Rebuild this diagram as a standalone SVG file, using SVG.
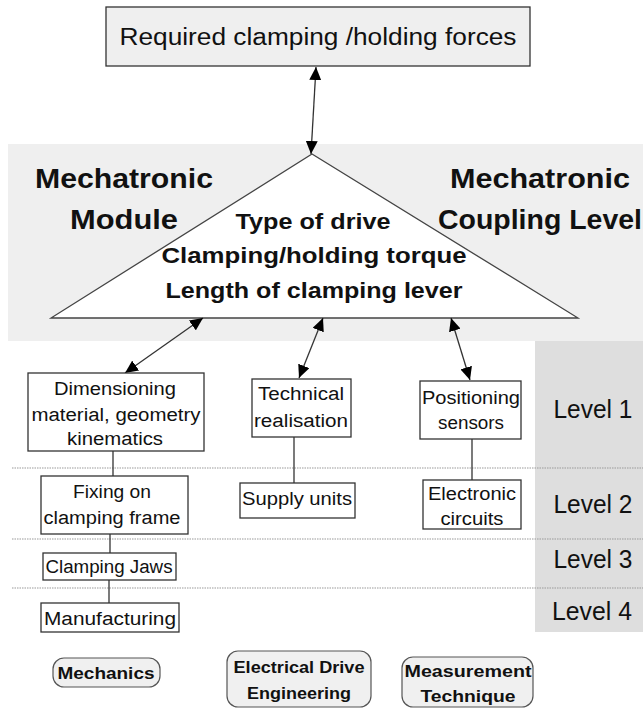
<svg xmlns="http://www.w3.org/2000/svg" width="643" height="708" viewBox="0 0 643 708">
<style>
text{font-family:"Liberation Sans",Arial,sans-serif;fill:#111;}
.box{fill:#fff;stroke:#333;stroke-width:1.3;}
.t{font-size:18px;text-anchor:middle;}
.b{font-weight:bold;}
.lvl{font-size:25px;text-anchor:middle;}
.cap{fill:#f0f0f0;stroke:#555;stroke-width:1.2;}
.dot{stroke:#999;stroke-width:1.2;stroke-dasharray:1.5 1;}
.ln{stroke:#333;stroke-width:1.3;fill:none;}
.arr{stroke:#333;stroke-width:1.3;fill:none;marker-start:url(#ah);marker-end:url(#ah);}
</style>
<defs>
<marker id="ah" markerUnits="userSpaceOnUse" markerWidth="14" markerHeight="12" refX="13" refY="6" orient="auto-start-reverse">
<path d="M0,0 L13,6 L0,12 z" fill="#000"/>
</marker>
</defs>

<g id="background">
<rect x="8" y="144" width="635" height="197" fill="#efefef"/>
<rect x="535" y="341" width="108" height="291" fill="#dedede"/>
<line class="dot" x1="12" y1="468" x2="643" y2="468"/>
<line class="dot" x1="12" y1="539" x2="643" y2="539"/>
<line class="dot" x1="12" y1="588" x2="643" y2="588"/>
</g>

<g id="top">
<rect x="106" y="7" width="424" height="59" fill="#efefef" stroke="#333" stroke-width="1.3"/>
<text x="318" y="45" font-size="23" text-anchor="middle" textLength="397" lengthAdjust="spacingAndGlyphs">Required clamping /holding forces</text>
</g>

<g id="module-label">
<text class="b" x="124" y="188" font-size="27" text-anchor="middle" textLength="178" lengthAdjust="spacingAndGlyphs">Mechatronic</text>
<text class="b" x="124" y="229" font-size="27" text-anchor="middle" textLength="108" lengthAdjust="spacingAndGlyphs">Module</text>
</g>
<g id="coupling-label">
<text class="b" x="540" y="188" font-size="27" text-anchor="middle" textLength="180" lengthAdjust="spacingAndGlyphs">Mechatronic</text>
<text class="b" x="540" y="229" font-size="27" text-anchor="middle" textLength="204" lengthAdjust="spacingAndGlyphs">Coupling Level</text>
</g>

<g id="triangle">
<polygon points="312,154 578,318 51,318" fill="#fff" stroke="#444" stroke-width="1.3"/>
<text class="b" x="313" y="229" font-size="22" text-anchor="middle" textLength="155" lengthAdjust="spacingAndGlyphs">Type of drive</text>
<text class="b" x="314" y="263" font-size="22" text-anchor="middle" textLength="305" lengthAdjust="spacingAndGlyphs">Clamping/holding torque</text>
<text class="b" x="314" y="298" font-size="22" text-anchor="middle" textLength="297" lengthAdjust="spacingAndGlyphs">Length of clamping lever</text>
</g>

<g id="connectors">
<line class="arr" x1="316" y1="67" x2="311" y2="154"/>
<line class="arr" x1="203" y1="318" x2="125" y2="373"/>
<line class="arr" x1="323" y1="318" x2="299" y2="378"/>
<line class="arr" x1="451" y1="318" x2="470" y2="380"/>
<line class="ln" x1="113" y1="451" x2="113" y2="476"/>
<line class="ln" x1="110" y1="534" x2="110" y2="553"/>
<line class="ln" x1="109" y1="580" x2="109" y2="603"/>
<line class="ln" x1="294" y1="437" x2="294" y2="483"/>
<line class="ln" x1="472" y1="439" x2="472" y2="480"/>
</g>

<g id="dimensioning">
<rect class="box" x="28" y="373" width="176" height="78"/>
<text class="t" x="115" y="395" textLength="122" lengthAdjust="spacingAndGlyphs">Dimensioning</text>
<text class="t" x="116" y="421" textLength="169" lengthAdjust="spacingAndGlyphs">material, geometry</text>
<text class="t" x="115" y="445" textLength="96" lengthAdjust="spacingAndGlyphs">kinematics</text>
</g>
<g id="technical">
<rect class="box" x="252" y="379" width="99" height="58"/>
<text class="t" x="301" y="400" textLength="86" lengthAdjust="spacingAndGlyphs">Technical</text>
<text class="t" x="301" y="427" textLength="94" lengthAdjust="spacingAndGlyphs">realisation</text>
</g>
<g id="positioning">
<rect class="box" x="420" y="381" width="101" height="58"/>
<text class="t" x="471" y="404" textLength="98" lengthAdjust="spacingAndGlyphs">Positioning</text>
<text class="t" x="471" y="429" textLength="66" lengthAdjust="spacingAndGlyphs">sensors</text>
</g>
<g id="fixing">
<rect class="box" x="41" y="476" width="147" height="58"/>
<text class="t" x="112" y="498" textLength="78" lengthAdjust="spacingAndGlyphs">Fixing on</text>
<text class="t" x="112" y="524" textLength="137" lengthAdjust="spacingAndGlyphs">clamping frame</text>
</g>
<g id="supply">
<rect class="box" x="240" y="483" width="115" height="35"/>
<text class="t" x="297" y="505" textLength="110" lengthAdjust="spacingAndGlyphs">Supply units</text>
</g>
<g id="electronic">
<rect class="box" x="423" y="480" width="98" height="49"/>
<text class="t" x="472" y="500" textLength="88" lengthAdjust="spacingAndGlyphs">Electronic</text>
<text class="t" x="472" y="525" textLength="63" lengthAdjust="spacingAndGlyphs">circuits</text>
</g>
<g id="jaws">
<rect class="box" x="43" y="553" width="133" height="27"/>
<text class="t" x="109" y="573" textLength="127" lengthAdjust="spacingAndGlyphs">Clamping Jaws</text>
</g>
<g id="manufacturing">
<rect class="box" x="41" y="603" width="138" height="29"/>
<text class="t" x="110" y="625" textLength="132" lengthAdjust="spacingAndGlyphs">Manufacturing</text>
</g>

<g id="levels">
<text class="lvl" x="593" y="418" textLength="79" lengthAdjust="spacingAndGlyphs">Level 1</text>
<text class="lvl" x="593" y="513" textLength="79" lengthAdjust="spacingAndGlyphs">Level 2</text>
<text class="lvl" x="593" y="568" textLength="79" lengthAdjust="spacingAndGlyphs">Level 3</text>
<text class="lvl" x="592" y="620" textLength="80" lengthAdjust="spacingAndGlyphs">Level 4</text>
</g>

<g id="mechanics">
<rect class="cap" x="53" y="658" width="107" height="29" rx="11"/>
<text class="b" x="106" y="679" font-size="17" text-anchor="middle" textLength="97" lengthAdjust="spacingAndGlyphs">Mechanics</text>
</g>
<g id="electrical">
<rect class="cap" x="227" y="651" width="144" height="56" rx="11"/>
<text class="b" x="299" y="673" font-size="17" text-anchor="middle" textLength="131" lengthAdjust="spacingAndGlyphs">Electrical Drive</text>
<text class="b" x="299" y="699" font-size="17" text-anchor="middle" textLength="104" lengthAdjust="spacingAndGlyphs">Engineering</text>
</g>
<g id="measurement">
<rect class="cap" x="402" y="657" width="131" height="50" rx="11"/>
<text class="b" x="468" y="677" font-size="17" text-anchor="middle" textLength="127" lengthAdjust="spacingAndGlyphs">Measurement</text>
<text class="b" x="468" y="702" font-size="17" text-anchor="middle" textLength="95" lengthAdjust="spacingAndGlyphs">Technique</text>
</g>
</svg>
